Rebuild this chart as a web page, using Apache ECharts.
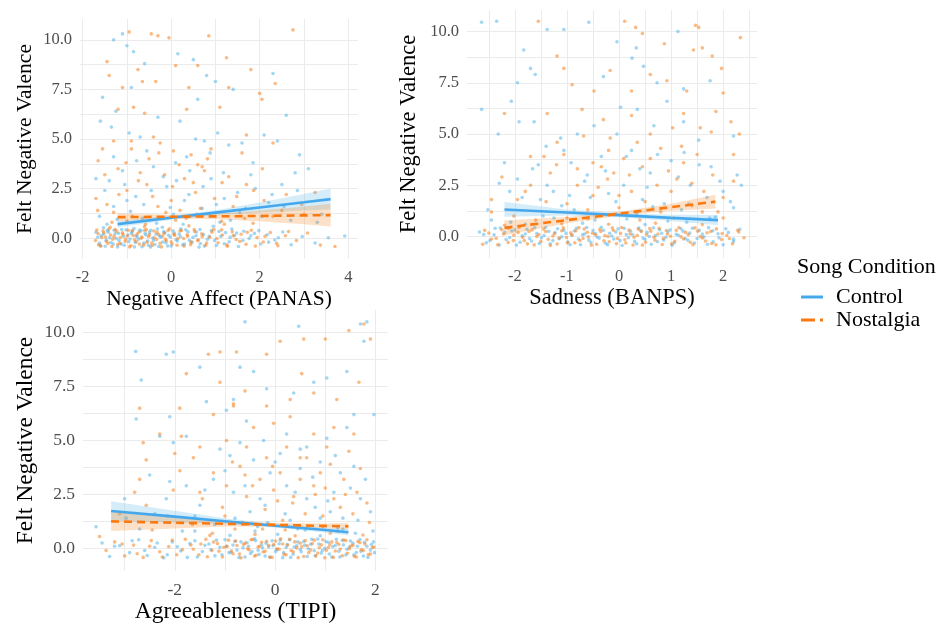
<!DOCTYPE html>
<html>
<head>
<meta charset="utf-8">
<script src="https://cdn.jsdelivr.net/npm/echarts@6/dist/echarts.min.js"></script>
<style>
  html, body { margin: 0; padding: 0; background: #fff; }
  #chart { width: 942px; height: 625px; }
</style>
</head>
<body>
<div id="chart"></div>
<script>
// ---- data ----
const panelTitles = ["Negative Affect (PANAS)", "Sadness (BANPS)", "Agreeableness (TIPI)"]
const yTitle = "Felt Negative Valence"
const conditions = ["Control", "Nostalgia"]

const yTicks = [0, 2.5, 5, 7.5, 10]
const yGrid = [0, 1.25, 2.5, 3.75, 5, 6.25, 7.5, 8.75, 10]
const x1Ticks = [-2, 0, 2, 4]
const x1Grid = [-2, -1, 0, 1, 2, 3, 4]
const x2Ticks = [-2, -1, 0, 1, 2]
const x2Grid = [-2.5, -2, -1.5, -1, -0.5, 0, 0.5, 1, 1.5, 2, 2.5]
const x3Ticks = [-2, 0, 2]
const x3Grid = [-3, -2, -1, 0, 1, 2]

// panel 1 points
const p1Control = [
  [-1.1,10.3],[-1.3,10.0],[-1.0,9.7],[-0.85,9.4],[-0.6,8.8],[0.15,9.3],[0.5,9.0],[-1.55,7.1],[-1.25,6.4],[-0.9,7.6],
  [0.6,7.0],[0.8,8.2],[1.0,7.9],[1.4,7.5],[2.3,8.3],[2.6,6.2],[-1.6,5.9],[-1.35,5.6],[-0.95,5.3],[-0.7,5.1],
  [-0.3,6.1],[0.2,5.9],[0.55,5.0],[0.75,4.9],[1.05,5.3],[1.3,4.7],[1.6,4.8],[2.1,5.2],[2.4,4.9],[2.9,4.2],
  [3.1,3.5],[2.8,3.3],[-1.7,3.0],[-1.1,3.4],[-0.4,3.6],[0.1,3.8],[0.9,3.0],[1.8,3.2],[2.5,2.7],[-1.5,2.4],
  [-0.8,2.1],[-0.1,2.6],[0.4,2.2],[1.2,2.0],[1.9,2.5],[2.2,1.8],[-1.3,1.6],[0.7,1.5],[3.4,1.2],[2.7,0.9],
  [-0.55,4.4],[0.35,4.1],[-1.0,1.9],[1.55,1.3],[0.05,1.2],[-0.65,1.0],[1.1,0.8],[-1.45,0.7],
  [-1.62,1.1],[-1.4,2.9],[-1.22,0.95],[-1.05,2.7],[-0.92,1.35],[-0.78,3.9],[-0.62,1.7],[-0.45,2.4],[-0.33,0.75],[-0.18,3.1],
  [-0.02,1.55],[0.12,2.9],[0.27,0.7],[0.42,3.4],[0.58,1.2],[0.72,2.6],[0.88,4.3],[1.02,1.7],[1.18,3.3],[1.34,0.9],
  [1.5,2.3],[1.68,1.5],[1.85,3.8],[2.05,1.1],[2.28,2.2],[2.55,1.6],[2.85,2.4],[3.3,0.8],[-1.3,4.1],[0.3,1.9],
  [-1.7,0.3],[-1.62,-0.25],[-1.58,0.12],[-1.49,-0.41],[-1.44,0.38],[-1.39,0.02],[-1.31,-0.3],[-1.27,0.22],[-1.18,-0.12],[-1.12,0.44],
  [-1.06,-0.36],[-0.98,0.16],[-0.93,-0.04],[-0.88,0.33],[-0.81,-0.22],[-0.77,0.07],[-0.71,0.41],[-0.66,-0.43],[-0.59,0.24],[-0.53,-0.14],
  [-0.49,0.29],[-0.42,0.01],[-0.37,-0.32],[-0.31,0.46],[-0.26,0.11],[-0.19,-0.19],[-0.14,0.27],[-0.08,-0.39],[-0.02,0.06],[0.04,0.37],
  [0.11,-0.08],[0.18,0.21],[0.26,-0.34],[0.33,0.42],[0.41,-0.11],[0.49,0.04],[0.57,0.31],[0.66,-0.27],[0.73,0.18],[0.82,-0.06],
  [0.91,0.39],[1.02,-0.37],[1.12,0.09],[1.23,0.28],[1.31,-0.18],[1.43,0.13],[1.52,-0.42],[1.64,0.35],[1.76,-0.02],[1.88,0.24],
  [2.02,-0.29],[2.17,0.17],[2.34,-0.09],[2.52,0.31],[2.71,-0.33],[2.96,0.08],[3.25,-0.24],[3.55,0.02],[3.92,0.11],[-1.21,-0.44],
  [-0.84,0.48],[-0.47,-0.45],[0.22,0.47],[0.63,-0.45],[1.37,0.46],[-1.53,0.52],[-0.2,0.55],[0.95,0.6],
  [-1.66,0.05],[-1.6,-0.38],[-1.53,0.2],[-1.47,-0.1],[-1.42,0.3],[-1.36,-0.22],[-1.29,0.4],[-1.24,-0.02],[-1.19,0.25],[-1.13,-0.3],
  [-1.08,0.1],[-1.02,0.42],[-0.96,-0.18],[-0.9,0.24],[-0.83,-0.44],[-0.79,0.12],[-0.74,-0.06],[-0.68,0.36],[-0.62,-0.25],[-0.57,0.16],
  [-0.51,-0.36],[-0.46,0.4],[-0.4,-0.12],[-0.34,0.2],[-0.28,-0.42],[-0.23,0.05],[-0.17,0.33],[-0.12,-0.23],[-0.06,0.15],[0.0,-0.4],
  [0.07,0.26],[0.14,-0.14],[0.21,0.08],[0.3,-0.3],[0.38,0.32],[0.47,-0.2],[0.56,0.12],[0.65,0.44],[0.75,-0.4],[0.86,0.1],
  [0.98,-0.12],[1.08,0.34],[1.2,-0.28],[1.33,0.04],[1.48,0.26],[1.62,-0.12],[1.8,0.12],[1.98,0.38],[2.2,-0.2],[2.42,0.02]
]
const p1Nostalgia = [
  [-0.95,10.4],[-0.45,10.3],[-0.3,10.2],[-0.05,10.1],[0.85,10.2],[2.75,10.5],[-1.45,8.9],[-1.4,8.2],[-0.75,8.5],[0.1,8.7],
  [0.6,8.7],[1.25,9.1],[1.8,8.5],[2.35,7.8],[-1.1,7.6],[-0.65,7.9],[-0.35,7.9],[0.4,7.6],[1.3,7.6],[2.0,7.3],
  [2.05,7.0],[-1.2,6.5],[-0.85,6.6],[-0.6,6.3],[0.35,6.5],[1.1,6.6],[1.7,5.2],[-1.55,4.5],[-1.3,4.9],[-0.9,4.9],
  [-0.4,5.1],[-0.25,4.8],[0.05,4.4],[0.45,4.2],[0.9,4.5],[1.6,4.3],[2.3,4.8],[-1.65,3.9],[-1.2,3.5],[-0.7,3.3],
  [-0.15,3.2],[0.3,3.0],[0.75,3.4],[1.15,2.8],[1.7,2.7],[-1.7,2.0],[-1.45,1.7],[-1.0,2.4],[-0.55,2.7],[0.0,1.9],
  [0.55,2.3],[1.4,1.6],[2.1,1.9],[2.5,1.4],[3.0,1.2],[-1.3,1.3],[0.2,1.4],[-0.3,1.6],[-0.5,4.0],[0.6,3.7],
  [-1.66,1.4],[-1.5,3.2],[-1.34,0.8],[-1.18,2.2],[-1.02,3.8],[-0.88,1.1],[-0.74,2.9],[-0.58,0.7],[-0.42,2.1],[-0.28,4.3],
  [-0.12,1.3],[0.03,2.6],[0.18,3.7],[0.34,1.0],[0.5,2.8],[0.66,1.5],[0.82,4.0],[0.98,2.0],[1.14,0.85],[1.3,3.1],
  [1.48,2.1],[1.66,1.0],[1.86,2.4],[2.06,3.5],[2.3,1.1],[2.6,2.2],[2.95,1.7],[3.25,2.3],[-0.9,4.5],[0.7,3.6],
  [-1.68,0.41],[-1.64,-0.33],[-1.57,0.03],[-1.52,0.27],[-1.46,-0.16],[-1.41,0.45],[-1.34,-0.42],[-1.29,0.09],[-1.23,0.34],[-1.16,-0.26],
  [-1.09,0.19],[-1.03,-0.05],[-0.97,0.4],[-0.91,-0.38],[-0.86,0.13],[-0.79,-0.17],[-0.73,0.3],[-0.68,0.0],[-0.62,-0.35],[-0.56,0.43],
  [-0.51,0.08],[-0.44,-0.24],[-0.39,0.36],[-0.33,-0.07],[-0.28,0.18],[-0.22,-0.44],[-0.16,0.25],[-0.11,-0.13],[-0.04,0.47],[0.02,-0.29],
  [0.08,0.14],[0.15,-0.02],[0.23,0.39],[0.29,-0.4],[0.37,0.1],[0.45,-0.2],[0.53,0.34],[0.61,-0.09],[0.69,0.22],[0.78,-0.36],
  [0.87,0.05],[0.96,0.43],[1.06,-0.23],[1.16,0.16],[1.27,-0.41],[1.38,0.32],[1.47,-0.07],[1.58,0.2],[1.69,-0.31],[1.81,0.4],
  [1.94,0.03],[2.08,-0.19],[2.24,0.28],[2.41,-0.38],[2.58,0.12],[2.83,-0.12],[3.08,0.26],[3.37,-0.35],[3.7,-0.42],[-1.38,0.55],
  [-0.6,0.58],[0.4,0.62],[1.2,0.7],[-1.0,0.85],[0.1,0.9],[1.85,0.75],
  [-1.71,-0.12],[-1.65,0.22],[-1.59,-0.4],[-1.54,0.36],[-1.48,0.06],[-1.43,-0.26],[-1.37,0.16],[-1.32,-0.05],[-1.26,0.44],[-1.21,-0.32],
  [-1.15,0.03],[-1.1,0.27],[-1.04,-0.17],[-0.99,0.11],[-0.94,-0.44],[-0.88,0.38],[-0.83,-0.08],[-0.77,0.21],[-0.72,-0.3],[-0.66,0.06],
  [-0.6,0.4],[-0.55,-0.2],[-0.49,0.18],[-0.43,-0.37],[-0.38,0.02],[-0.32,0.3],[-0.25,-0.26],[-0.19,0.11],[-0.13,-0.06],[-0.07,0.39],
  [0.0,-0.18],[0.06,0.2],[0.13,-0.36],[0.2,0.36],[0.28,-0.02],[0.36,0.17],[0.44,-0.33],[0.52,0.44],[0.6,-0.12],[0.7,0.08],
  [0.8,-0.24],[0.92,0.3],[1.03,-0.02],[1.14,0.42],[1.26,-0.34],[1.4,0.12],[1.55,-0.16],[1.72,0.3],[1.9,-0.4],[2.12,0.1],
  [2.38,-0.26],[2.65,0.34]
]

// panel 2 points
const p2Control = [
  [-2.64,10.45],[-2.35,10.5],[-1.38,10.1],[-1.06,10.1],[-0.58,10.45],[-0.04,9.5],[0.25,8.7],[0.33,9.2],[1.13,10.0],[-1.83,9.1],
  [-1.7,8.2],[-1.61,7.9],[-1.95,7.5],[-0.3,7.8],[0.47,8.3],[0.73,7.5],[1.24,7.2],[1.75,7.6],[-2.64,6.2],[-2.07,6.6],
  [-1.92,5.6],[-1.63,5.6],[-1.12,4.8],[-0.8,5.0],[-0.48,5.4],[-0.04,5.0],[0.03,6.3],[0.35,6.2],[0.67,5.4],[0.92,6.6],
  [1.24,5.6],[1.53,4.7],[2.2,4.9],[2.27,3.0],[2.35,2.5],[-2.32,5.0],[-1.55,3.5],[-0.92,3.6],[-0.34,3.9],[0.24,4.2],
  [1.0,3.7],[1.77,3.4],[-1.95,2.8],[-1.38,2.5],[-0.61,3.0],[0.09,2.5],[0.6,3.1],[1.37,2.5],[1.69,1.9],[2.0,2.2],
  [-0.55,1.9],[-1.51,1.8],[0.87,1.6],[-2.1,2.2],[-0.2,2.1],[0.45,1.8],[1.2,1.3],[-1.1,1.5],[2.2,1.4],[-2.45,0.8],
  [-2.52,1.3],[-2.3,2.6],[-2.08,0.7],[-1.86,1.9],[-1.66,3.3],[-1.46,1.0],[-1.26,2.2],[-1.06,4.2],[-0.86,1.3],[-0.66,2.7],
  [-0.46,0.8],[-0.26,3.2],[-0.06,1.7],[0.14,3.9],[0.34,1.1],[0.54,2.4],[0.74,4.0],[0.94,0.75],[1.14,2.9],[1.34,1.6],
  [1.54,3.5],[1.74,0.9],[1.94,2.7],[2.14,1.7],[-1.4,4.4],[0.4,3.3],[1.25,4.1],[-0.95,2.0],[0.65,1.45],[-2.2,3.6],
  [-2.68,0.22],[-2.55,-0.31],[-2.4,0.08],[-2.28,0.41],[-2.17,-0.15],[-2.06,0.27],[-1.97,-0.42],[-1.86,0.03],[-1.77,0.35],[-1.68,-0.22],
  [-1.58,0.14],[-1.49,-0.06],[-1.41,0.44],[-1.32,-0.36],[-1.23,0.19],[-1.15,-0.11],[-1.06,0.31],[-0.98,-0.27],[-0.9,0.06],[-0.82,0.4],
  [-0.74,-0.4],[-0.66,0.12],[-0.58,-0.18],[-0.5,0.29],[-0.42,-0.03],[-0.34,0.45],[-0.26,-0.33],[-0.18,0.16],[-0.1,-0.12],[-0.02,0.37],
  [0.06,-0.44],[0.14,0.09],[0.22,0.26],[0.3,-0.24],[0.38,0.41],[0.46,-0.08],[0.54,0.2],[0.62,-0.38],[0.7,0.04],[0.78,0.33],
  [0.86,-0.17],[0.94,0.23],[1.02,-0.43],[1.1,0.11],[1.19,0.38],[1.27,-0.1],[1.36,0.17],[1.45,-0.32],[1.54,0.3],[1.63,-0.02],
  [1.72,0.43],[1.81,-0.26],[1.9,0.13],[2.0,-0.4],[2.1,0.2],[2.2,-0.13],[2.32,0.35],[-1.8,0.6],[-0.7,0.65],[0.5,0.58],
  [1.3,0.7],[-1.25,0.9],[0.15,0.85],[1.85,0.95],
  [-2.6,0.1],[-2.48,-0.2],[-2.38,0.4],[-2.3,-0.42],[-2.2,0.2],[-2.1,-0.05],[-2.0,0.32],[-1.9,-0.28],[-1.8,0.12],[-1.72,-0.1],
  [-1.62,0.42],[-1.53,-0.34],[-1.44,0.05],[-1.35,0.25],[-1.27,-0.2],[-1.18,0.38],[-1.1,-0.02],[-1.02,0.15],[-0.94,-0.4],[-0.86,0.27],
  [-0.78,-0.12],[-0.7,0.08],[-0.62,0.44],[-0.54,-0.3],[-0.46,0.14],[-0.38,-0.08],[-0.3,0.3],[-0.22,-0.4],[-0.14,0.02],[-0.06,0.22],
  [0.02,-0.2],[0.1,0.4],[0.18,-0.06],[0.26,0.1],[0.34,-0.36],[0.42,0.28],[0.5,-0.14],[0.58,0.0],[0.66,0.42],[0.74,-0.26],
  [0.82,0.16],[0.9,-0.04],[0.98,0.32],[1.06,-0.32],[1.14,0.06],[1.23,0.26],[1.32,-0.18],[1.41,0.4],[1.5,-0.1],[1.6,0.12],
  [1.7,-0.38],[1.8,0.28],[1.92,-0.06],[2.05,0.38],[2.2,-0.24]
]
const p2Nostalgia = [
  [-1.55,10.5],[0.11,10.5],[0.32,10.2],[0.45,9.9],[1.47,10.3],[1.53,10.2],[2.33,9.7],[1.43,9.1],[1.6,9.2],[1.79,8.8],
  [0.87,9.4],[-1.19,8.8],[-1.06,8.2],[-0.17,8.1],[0.6,7.9],[0.92,7.6],[-0.9,7.4],[-0.48,7.1],[0.24,7.1],[1.3,7.1],
  [1.97,8.2],[2.0,7.0],[-2.2,6.0],[-1.38,6.0],[-0.71,6.2],[-0.3,5.7],[0.24,5.9],[1.24,6.0],[1.86,6.1],[2.15,5.6],
  [2.31,5.0],[-1.19,4.6],[-0.68,4.9],[-0.17,4.8],[0.6,5.0],[1.03,5.3],[1.56,5.3],[1.77,5.1],[-1.44,3.9],[-1.06,4.0],
  [-0.34,3.4],[0.09,3.8],[0.45,3.4],[1.24,3.6],[2.2,4.0],[-2.45,1.8],[-1.7,2.5],[-1.32,3.1],[-0.8,2.5],[-0.22,2.8],
  [0.24,2.2],[0.73,2.5],[1.11,2.8],[1.63,2.2],[2.0,1.9],[-1.95,1.8],[-0.5,2.0],[0.5,1.7],[1.4,1.5],[-1.0,1.6],
  [0.0,1.4],[1.9,1.2],[-0.1,3.1],[0.8,4.3],
  [-2.45,1.2],[-2.25,2.9],[-2.02,1.0],[-1.8,2.2],[-1.6,0.8],[-1.4,1.7],[-1.2,3.5],[-1.0,0.9],[-0.8,3.3],[-0.6,1.3],
  [-0.4,2.4],[-0.2,4.2],[0.0,2.0],[0.2,3.0],[0.4,0.8],[0.6,3.8],[0.8,1.2],[1.0,2.2],[1.2,4.4],[1.4,2.6],
  [1.6,1.2],[1.8,3.0],[2.0,0.9],[2.2,2.7],[-1.7,3.9],[-0.5,3.6],[0.35,4.6],[1.5,4.0],[0.95,3.2],[-0.05,1.1],
  [-2.62,-0.38],[-2.5,0.17],[-2.36,-0.09],[-2.25,0.33],[-2.13,-0.29],[-2.02,0.06],[-1.92,0.44],[-1.82,-0.2],[-1.73,0.24],[-1.63,-0.41],
  [-1.54,0.1],[-1.45,0.36],[-1.36,-0.14],[-1.27,0.02],[-1.19,-0.37],[-1.1,0.28],[-1.01,-0.05],[-0.93,0.18],[-0.85,-0.31],[-0.77,0.43],
  [-0.69,-0.1],[-0.61,0.21],[-0.53,-0.43],[-0.45,0.08],[-0.37,0.34],[-0.29,-0.21],[-0.21,0.0],[-0.13,0.42],[-0.05,-0.35],[0.03,0.15],
  [0.11,-0.16],[0.19,0.31],[0.27,-0.42],[0.35,0.05],[0.43,0.24],[0.51,-0.28],[0.59,0.39],[0.67,-0.04],[0.75,0.12],[0.83,-0.39],
  [0.91,0.29],[0.99,0.01],[1.07,-0.23],[1.15,0.44],[1.24,-0.12],[1.33,0.09],[1.42,-0.4],[1.51,0.26],[1.6,-0.07],[1.69,0.18],
  [1.78,-0.34],[1.87,0.37],[1.97,-0.15],[2.07,0.05],[2.18,-0.36],[2.3,0.22],[2.4,-0.06],[-2.2,0.55],[-1.1,0.62],[-0.2,0.6],
  [0.7,0.65],[1.6,0.58],[-0.6,0.85],[1.05,0.9],
  [-2.58,0.3],[-2.45,-0.12],[-2.33,-0.4],[-2.22,0.12],[-2.12,0.4],[-2.03,-0.2],[-1.94,0.2],[-1.85,-0.04],[-1.76,-0.36],[-1.67,0.32],
  [-1.58,0.0],[-1.5,-0.24],[-1.41,0.24],[-1.32,-0.44],[-1.24,0.14],[-1.15,-0.08],[-1.07,0.42],[-0.99,-0.3],[-0.91,0.08],[-0.83,0.28],
  [-0.75,-0.2],[-0.67,0.36],[-0.59,-0.02],[-0.51,0.16],[-0.43,-0.38],[-0.35,0.24],[-0.27,0.04],[-0.19,-0.26],[-0.11,0.3],[-0.03,-0.1],
  [0.05,0.44],[0.13,-0.32],[0.21,0.12],[0.29,-0.04],[0.37,0.36],[0.45,-0.42],[0.53,0.1],[0.61,0.26],[0.69,-0.18],[0.77,0.4],
  [0.85,-0.1],[0.93,0.12],[1.01,-0.36],[1.1,0.3],[1.19,-0.02],[1.28,0.2],[1.37,-0.28],[1.46,0.42],[1.56,0.0],[1.66,-0.22],
  [1.76,0.24],[1.86,-0.4],[1.98,0.14],[2.12,-0.1],[2.28,0.3]
]

// panel 3 points
const p3Control = [
  [-2.78,9.13],[-2.17,9.0],[-2.03,9.1],[-0.6,10.5],[0.47,10.3],[1.7,10.4],[1.83,10.5],[1.77,9.6],[-2.67,7.8],[-1.5,8.4],
  [-0.7,8.4],[-0.43,8.2],[-0.83,6.9],[-0.17,7.4],[0.37,7.2],[0.77,7.7],[1.03,7.9],[1.43,8.2],[1.97,6.2],[-2.77,6.0],
  [-2.1,6.1],[-1.37,6.8],[-0.97,6.4],[-0.57,5.9],[-0.23,5.0],[0.23,5.3],[0.63,4.7],[1.03,5.1],[1.57,6.2],[1.43,5.6],
  [-2.3,5.2],[-2.03,4.9],[-1.77,5.2],[-1.1,4.6],[-0.7,4.9],[-0.43,4.1],[0.1,4.4],[0.5,3.7],[0.9,4.0],[1.3,3.5],
  [1.57,3.8],[-2.5,3.4],[-1.77,2.9],[-1.23,3.2],[-0.83,2.6],[-0.3,2.3],[0.23,2.9],[0.63,2.3],[1.17,2.6],[1.7,2.3],
  [-2.17,2.3],[-1.5,2.0],[1.9,1.7],[-3.57,1.0],[-2.97,1.4],[-0.1,3.5],[0.8,1.9],[-0.5,1.7],[1.35,1.4],[0.3,1.3],
  [-3.0,2.3],[-2.7,0.9],[-2.4,1.6],[-2.1,3.1],[-1.85,0.8],[-1.6,1.5],[-1.4,2.7],[-1.2,1.1],[-1.0,3.6],[-0.8,1.4],
  [-0.6,2.9],[-0.4,0.8],[-0.2,2.0],[0.0,4.0],[0.2,1.6],[0.4,2.6],[0.6,0.85],[0.75,3.3],[0.9,1.4],[1.05,2.2],
  [1.2,4.3],[1.35,0.9],[1.5,2.8],[1.65,1.3],[1.8,3.2],[1.95,0.8],[-0.9,4.3],[0.5,4.6],[1.1,1.7],[-0.15,1.2],
  [-3.45,0.25],[-3.3,-0.38],[-3.1,0.12],[-2.9,-0.2],[-2.72,0.4],[-2.55,-0.33],[-2.4,0.05],[-2.22,-0.44],[-2.05,0.3],[-1.88,-0.12],
  [-1.7,0.22],[-1.55,-0.4],[-1.4,0.14],[-1.28,-0.06],[-1.17,0.38],[-1.06,-0.3],[-0.97,0.09],[-0.88,-0.18],[-0.8,0.33],[-0.72,-0.42],
  [-0.64,0.02],[-0.56,0.26],[-0.49,-0.24],[-0.41,0.44],[-0.34,-0.09],[-0.27,0.17],[-0.2,-0.36],[-0.13,0.07],[-0.06,0.35],[0.01,-0.15],
  [0.08,0.21],[0.15,-0.43],[0.22,0.04],[0.29,0.4],[0.36,-0.27],[0.43,0.12],[0.5,-0.05],[0.57,0.31],[0.64,-0.38],[0.71,0.19],
  [0.78,-0.11],[0.85,0.43],[0.92,-0.22],[0.99,0.0],[1.06,0.28],[1.13,-0.4],[1.2,0.13],[1.27,-0.14],[1.34,0.37],[1.41,-0.31],
  [1.48,0.06],[1.55,0.24],[1.62,-0.19],[1.69,0.41],[1.76,-0.36],[1.83,0.1],[1.9,-0.08],[1.96,0.3],[-0.9,0.6],[0.05,0.65],
  [0.9,0.58],[1.6,0.7],[-1.6,0.8],[0.45,0.9],[1.25,0.95],[-0.35,1.0],
  [-3.2,0.1],[-2.85,0.35],[-2.6,-0.1],[-2.35,0.25],[-2.15,-0.3],[-1.95,0.08],[-1.75,-0.42],[-1.6,0.35],[-1.45,-0.15],[-1.32,0.2],
  [-1.2,-0.35],[-1.1,0.05],[-1.0,0.4],[-0.92,-0.2],[-0.84,0.15],[-0.76,-0.08],[-0.68,0.3],[-0.6,-0.4],[-0.53,0.1],[-0.46,-0.15],
  [-0.39,0.36],[-0.32,-0.28],[-0.25,0.02],[-0.18,0.24],[-0.11,-0.4],[-0.04,0.12],[0.03,-0.06],[0.1,0.38],[0.17,-0.2],[0.24,0.18],
  [0.31,-0.42],[0.38,0.06],[0.45,0.3],[0.52,-0.16],[0.59,0.14],[0.66,-0.02],[0.73,0.42],[0.8,-0.34],[0.87,0.2],[0.94,-0.1],
  [1.01,0.32],[1.08,-0.26],[1.15,0.08],[1.22,0.42],[1.29,-0.4],[1.36,0.16],[1.43,-0.04],[1.5,0.34],[1.57,-0.3],[1.64,0.1],
  [1.71,-0.14],[1.78,0.28],[1.85,-0.42],[1.92,0.18],[1.98,-0.2]
]
const p3Nostalgia = [
  [1.77,10.4],[1.47,10.1],[1.9,9.7],[1.0,9.7],[0.57,9.7],[0.1,9.6],[-0.17,9.0],[-1.1,9.1],[-1.33,9.0],[-0.77,9.1],
  [-1.77,8.1],[-1.1,7.7],[-0.6,7.3],[-0.83,6.7],[-0.17,6.6],[0.3,6.9],[0.53,8.1],[0.77,7.2],[1.23,6.9],[1.67,7.7],
  [-2.7,6.5],[-1.9,6.5],[-1.23,6.2],[-0.83,6.6],[-0.43,5.6],[-0.03,5.8],[0.3,6.1],[0.77,5.3],[1.17,5.6],[1.57,5.3],
  [-2.63,4.9],[-2.3,5.3],[-1.87,5.2],[-1.5,4.7],[-0.97,5.0],[-0.57,4.7],[-0.17,4.2],[0.23,4.7],[0.63,4.2],[1.03,4.7],
  [1.47,4.5],[-2.57,4.1],[-1.63,4.2],[-1.23,3.5],[-0.7,3.8],[-0.3,3.2],[0.1,3.5],[0.5,3.2],[0.9,3.5],[1.37,3.2],
  [-2.7,3.2],[-2.03,2.7],[-1.5,2.6],[-0.97,2.9],[-0.57,2.4],[-0.03,2.7],[0.37,2.4],[0.77,2.9],[1.17,2.3],[1.63,2.6],
  [1.83,2.1],[-2.57,2.0],[-3.5,0.55],[-0.2,1.8],[0.6,1.6],[1.3,1.9],[-1.0,1.5],
  [-3.1,1.6],[-2.8,2.6],[-2.45,0.85],[-2.15,1.5],[-1.9,3.6],[-1.65,1.1],[-1.45,2.3],[-1.25,0.7],[-1.05,1.9],[-0.85,4.0],
  [-0.65,1.2],[-0.45,2.9],[-0.25,0.9],[-0.05,3.8],[0.15,1.3],[0.35,2.1],[0.5,4.2],[0.65,1.0],[0.8,2.5],[0.95,1.5],
  [1.1,3.9],[1.25,0.8],[1.4,2.5],[1.55,1.6],[1.7,3.7],[1.88,1.2],[-2.0,4.4],[0.05,2.2],[1.0,2.8],[-0.6,3.4],
  [-3.37,-0.1],[-3.2,0.3],[-3.0,-0.35],[-2.82,0.15],[-2.63,-0.42],[-2.47,0.36],[-2.3,-0.16],[-2.12,0.08],[-1.96,-0.3],[-1.79,0.42],
  [-1.63,-0.04],[-1.48,0.2],[-1.35,-0.39],[-1.23,0.29],[-1.12,-0.13],[-1.02,0.05],[-0.93,0.38],[-0.84,-0.25],[-0.76,0.13],[-0.68,-0.44],
  [-0.6,0.24],[-0.52,-0.07],[-0.45,0.41],[-0.38,-0.32],[-0.31,0.1],[-0.24,-0.17],[-0.17,0.33],[-0.1,-0.41],[-0.03,0.18],[0.04,-0.02],
  [0.11,0.44],[0.18,-0.28],[0.25,0.15],[0.32,-0.1],[0.39,0.3],[0.46,-0.43],[0.53,0.07],[0.6,0.36],[0.67,-0.2],[0.74,0.22],
  [0.81,-0.35],[0.88,0.03],[0.95,0.4],[1.02,-0.09],[1.09,0.17],[1.16,-0.42],[1.23,0.27],[1.3,-0.03],[1.37,0.39],[1.44,-0.23],
  [1.51,0.11],[1.58,-0.37],[1.65,0.32],[1.72,-0.06],[1.79,0.2],[1.86,-0.29],[1.94,0.04],[-1.3,0.6],[-0.4,0.65],[0.4,0.58],
  [1.1,0.7],[1.75,0.62],[-0.8,0.9],[0.2,0.85],[0.95,1.0],
  [-3.05,0.2],[-2.75,-0.25],[-2.5,0.1],[-2.25,-0.4],[-2.05,0.38],[-1.85,-0.06],[-1.68,0.15],[-1.52,-0.3],[-1.38,0.42],[-1.26,-0.1],
  [-1.15,0.22],[-1.05,-0.4],[-0.96,0.1],[-0.87,-0.12],[-0.79,0.34],[-0.71,-0.26],[-0.63,0.18],[-0.55,-0.02],[-0.48,0.4],[-0.41,-0.36],
  [-0.34,0.06],[-0.27,0.28],[-0.2,-0.14],[-0.13,0.14],[-0.06,-0.42],[0.01,0.34],[0.08,-0.04],[0.15,0.2],[0.22,-0.3],[0.29,0.42],
  [0.36,-0.16],[0.43,0.02],[0.5,0.24],[0.57,-0.38],[0.64,0.12],[0.71,-0.08],[0.78,0.38],[0.85,-0.22],[0.92,0.16],[0.99,-0.44],
  [1.06,0.04],[1.13,0.3],[1.2,-0.12],[1.27,0.18],[1.34,-0.34],[1.41,0.36],[1.48,-0.02],[1.55,0.14],[1.62,-0.4],[1.69,0.26],
  [1.76,-0.1],[1.83,0.4],[1.9,-0.26],[1.97,0.06]
]

// fitted lines and confidence bands (x, fit, lower, upper)
const p1Fit = {
  Control:   { x: [-1.21, 0, 1, 2, 3, 3.6], fit: [0.71, 1.03, 1.29, 1.55, 1.81, 1.97], lo: [0.54, 0.93, 1.17, 1.3, 1.39, 1.44], hi: [0.88, 1.13, 1.41, 1.8, 2.23, 2.5] },
  Nostalgia: { x: [-1.21, 0, 1, 2, 3, 3.6], fit: [1.06, 1.08, 1.1, 1.12, 1.15, 1.16], lo: [0.86, 0.98, 0.97, 0.85, 0.7, 0.59], hi: [1.26, 1.18, 1.23, 1.39, 1.6, 1.73] }
}
const p2Fit = {
  Control:   { x: [-2.2, -1, 0, 1, 1.9], fit: [1.32, 1.17, 1.04, 0.91, 0.8], lo: [0.96, 1.02, 0.94, 0.76, 0.55], hi: [1.68, 1.32, 1.14, 1.06, 1.05] },
  Nostalgia: { x: [-2.2, -1, 0, 1, 1.85], fit: [0.42, 0.8, 1.11, 1.43, 1.7], lo: [0.06, 0.65, 1.01, 1.26, 1.37], hi: [0.78, 0.95, 1.21, 1.6, 2.03] }
}
const p3Fit = {
  Control:   { x: [-3.27, -2, -1, 0, 1, 1.46], fit: [1.73, 1.47, 1.26, 1.05, 0.85, 0.75], lo: [1.28, 1.2, 1.13, 0.97, 0.74, 0.6], hi: [2.18, 1.74, 1.39, 1.13, 0.96, 0.9] },
  Nostalgia: { x: [-3.27, -2, -1, 0, 1, 1.46], fit: [1.25, 1.19, 1.14, 1.09, 1.04, 1.02], lo: [0.8, 0.92, 1.01, 1.01, 0.93, 0.87], hi: [1.7, 1.46, 1.27, 1.17, 1.15, 1.17] }
}

// ---- styling ----
const FONT = "Liberation Serif"
const colors = { Control: "#56B4E9", Nostalgia: "#F5821F" }
const lineColors = { Control: "#45A8EC", Nostalgia: "#FA7A12" }
const gridColor = "#EBEBEB"

const panels = [
  { pts: [p1Control, p1Nostalgia], fit: p1Fit, xMin: -2.06, xMax: 4.22, xTicks: x1Ticks, xGrid: x1Grid,
    grid: { left: 80, top: 19, width: 278, height: 240 }, titleSize: 21.5, tickSize: 16.5, xGap: 29, yGap: 44 },
  { pts: [p2Control, p2Nostalgia], fit: p2Fit, xMin: -2.92, xMax: 2.65, xTicks: x2Ticks, xGrid: x2Grid,
    grid: { left: 467, top: 10, width: 290, height: 248 }, titleSize: 22.5, tickSize: 16.5, xGap: 29, yGap: 46 },
  { pts: [p3Control, p3Nostalgia], fit: p3Fit, xMin: -3.83, xMax: 2.25, xTicks: x3Ticks, xGrid: x3Grid,
    grid: { left: 83, top: 310, width: 305, height: 262 }, titleSize: 23.5, tickSize: 17.5, xGap: 29, yGap: 45 }
]

// confidence band as one polygon, through the axes' own coord()
function bandRender(color) {
  return (params, api) => {
    if (params.dataIndexInside !== 0) return null
    const n = params.dataInsideLength
    const top = [], bottom = []
    for (let j = 0; j < n; j++) {
      top.push(api.coord([api.value(0, j), api.value(2, j)]))
      bottom.unshift(api.coord([api.value(0, j), api.value(1, j)]))
    }
    return { type: "polygon", shape: { points: top.concat(bottom) }, style: { fill: color, opacity: 0.25 }, silent: true }
  }
}

const grids = [], xAxes = [], yAxes = [], series = []
panels.forEach((p, i) => {
  grids.push(p.grid)
  xAxes.push({
    gridIndex: i, type: "value", min: p.xMin, max: p.xMax,
    name: panelTitles[i], nameLocation: "middle", nameGap: p.xGap,
    nameTextStyle: { fontFamily: FONT, fontSize: p.titleSize, color: "#000" },
    axisLine: { show: false }, axisTick: { show: false, customValues: p.xGrid },
    axisLabel: { customValues: p.xTicks, margin: 10, fontFamily: FONT, fontSize: p.tickSize, color: "#4D4D4D" },
    splitLine: { show: true, lineStyle: { color: gridColor, width: 1 } }
  })
  yAxes.push({
    gridIndex: i, type: "value", min: -1.05, max: 11.05,
    name: yTitle, nameLocation: "middle", nameGap: p.yGap,
    nameTextStyle: { fontFamily: FONT, fontSize: p.titleSize, color: "#000" },
    axisLine: { show: false }, axisTick: { show: false, customValues: yGrid },
    axisLabel: { customValues: yTicks, margin: 8, fontFamily: FONT, fontSize: p.tickSize, color: "#4D4D4D",
      formatter: v => v.toFixed(1) },
    splitLine: { show: true, lineStyle: { color: gridColor, width: 1 } }
  })
  conditions.forEach((c, k) => {
    series.push({
      name: c + " points", type: "scatter", xAxisIndex: i, yAxisIndex: i,
      data: p.pts[k], symbolSize: 3.6, silent: true,
      itemStyle: { color: colors[c], opacity: 0.55 }, z: 1
    })
  })
  conditions.forEach(c => {
    const f = p.fit[c]
    series.push({
      name: c + " band " + i, type: "custom", xAxisIndex: i, yAxisIndex: i, silent: true,
      data: f.x.map((x, j) => [x, f.lo[j], f.hi[j]]),
      encode: { x: 0, y: [1, 2] },
      renderItem: bandRender(colors[c]), z: 2
    })
  })
  conditions.forEach(c => {
    const f = p.fit[c]
    series.push({
      name: c, type: "line", xAxisIndex: i, yAxisIndex: i, symbol: "none", silent: true,
      data: f.x.map((x, j) => [x, f.fit[j]]),
      lineStyle: { color: lineColors[c], width: 2.6, type: c === "Control" ? "solid" : [8, 5] },
      itemStyle: { color: lineColors[c] }, z: 3
    })
  })
})

const chart = echarts.init(document.getElementById("chart"))
chart.setOption({
  animation: false,
  backgroundColor: "#fff",
  title: {
    text: "Song Condition", left: 792, top: 251,
    textStyle: { fontFamily: FONT, fontSize: 22, fontWeight: "normal", color: "#000" }
  },
  legend: {
    data: [
      { name: "Control", icon: "path://M0,0h22v3h-22z" },
      { name: "Nostalgia", icon: "path://M0,0h14v3h-14z M19,0h3v3h-3z" }
    ],
    orient: "vertical", left: 796, top: 281,
    itemWidth: 22, itemHeight: 3, itemGap: 1, selectedMode: false,
    textStyle: { fontFamily: FONT, fontSize: 22, color: "#000", padding: [0, 0, 0, 8] }
  },
  grid: grids,
  xAxis: xAxes,
  yAxis: yAxes,
  series: series
})
</script>
</body>
</html>
